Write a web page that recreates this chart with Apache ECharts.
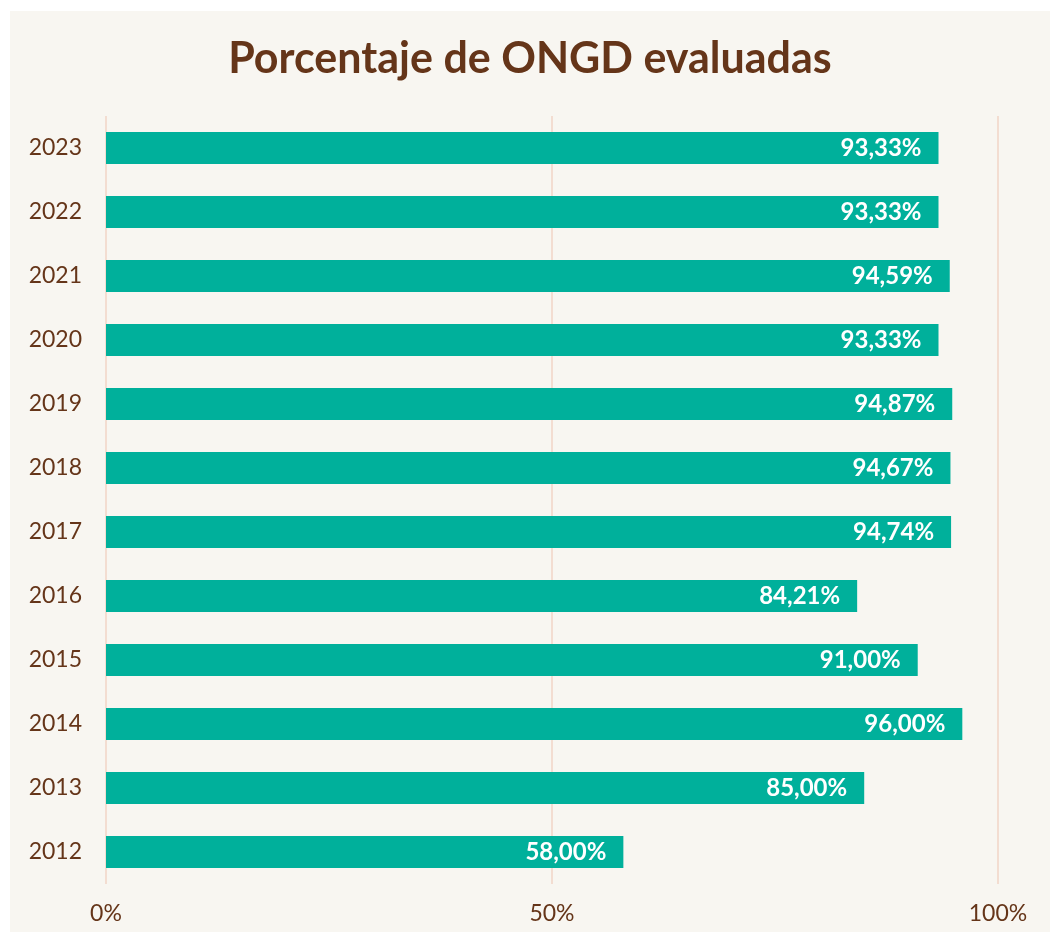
<!DOCTYPE html>
<html>
<head>
<meta charset="utf-8">
<script src="https://cdn.jsdelivr.net/npm/echarts@6/dist/echarts.min.js"></script>
<style>
  body { margin: 0; background: #ffffff; }
  #chart { position: absolute; left: 10px; top: 11px; width: 1040px; height: 921px; background: #f8f6f1; }
</style>
</head>
<body>
<div id="chart"></div>
<script>
var years = ['2012', '2013', '2014', '2015', '2016', '2017', '2018', '2019', '2020', '2021', '2022', '2023'];
var percentages = [58.00, 85.00, 96.00, 91.00, 84.21, 94.74, 94.67, 94.87, 93.33, 94.59, 93.33, 93.33];
var xTicks = [0, 50, 100];

var brown = '#653519';
var chart = echarts.init(document.getElementById('chart'));

var option = {
    backgroundColor: 'transparent',
    title: {
        text: 'Porcentaje de ONGD evaluadas',
        left: 'center',
        top: 22,
        textStyle: {
            fontFamily: 'Lato',
            fontWeight: 'bold',
            fontSize: 43,
            color: brown
        }
    },
    grid: {
        left: 96,
        right: 52,
        top: 105,
        bottom: 48
    },
    xAxis: {
        type: 'value',
        min: xTicks[0],
        max: xTicks[xTicks.length - 1],
        interval: 50,
        axisLine: { show: false },
        axisTick: { show: false },
        splitLine: { lineStyle: { color: '#f3ddd1', width: 2 } },
        axisLabel: {
            formatter: '{value}%',
            color: brown,
            fontFamily: 'Lato',
            fontSize: 23,
            margin: 18
        }
    },
    yAxis: {
        type: 'category',
        data: years,
        axisLine: { show: false },
        axisTick: { show: false },
        axisLabel: {
            color: brown,
            fontFamily: 'Lato',
            fontSize: 23,
            margin: 24
        }
    },
    series: [{
        type: 'bar',
        data: percentages,
        barWidth: '50%',
        itemStyle: { color: '#00b09b' },
        label: {
            show: true,
            position: 'insideRight',
            offset: [-12, 0],
            color: '#ffffff',
            fontFamily: 'Lato',
            fontWeight: 'bold',
            fontSize: 24,
            formatter: function (p) {
                return p.value.toFixed(2).replace('.', ',') + '%';
            }
        }
    }]
};

chart.setOption(option);
</script>
</body>
</html>
